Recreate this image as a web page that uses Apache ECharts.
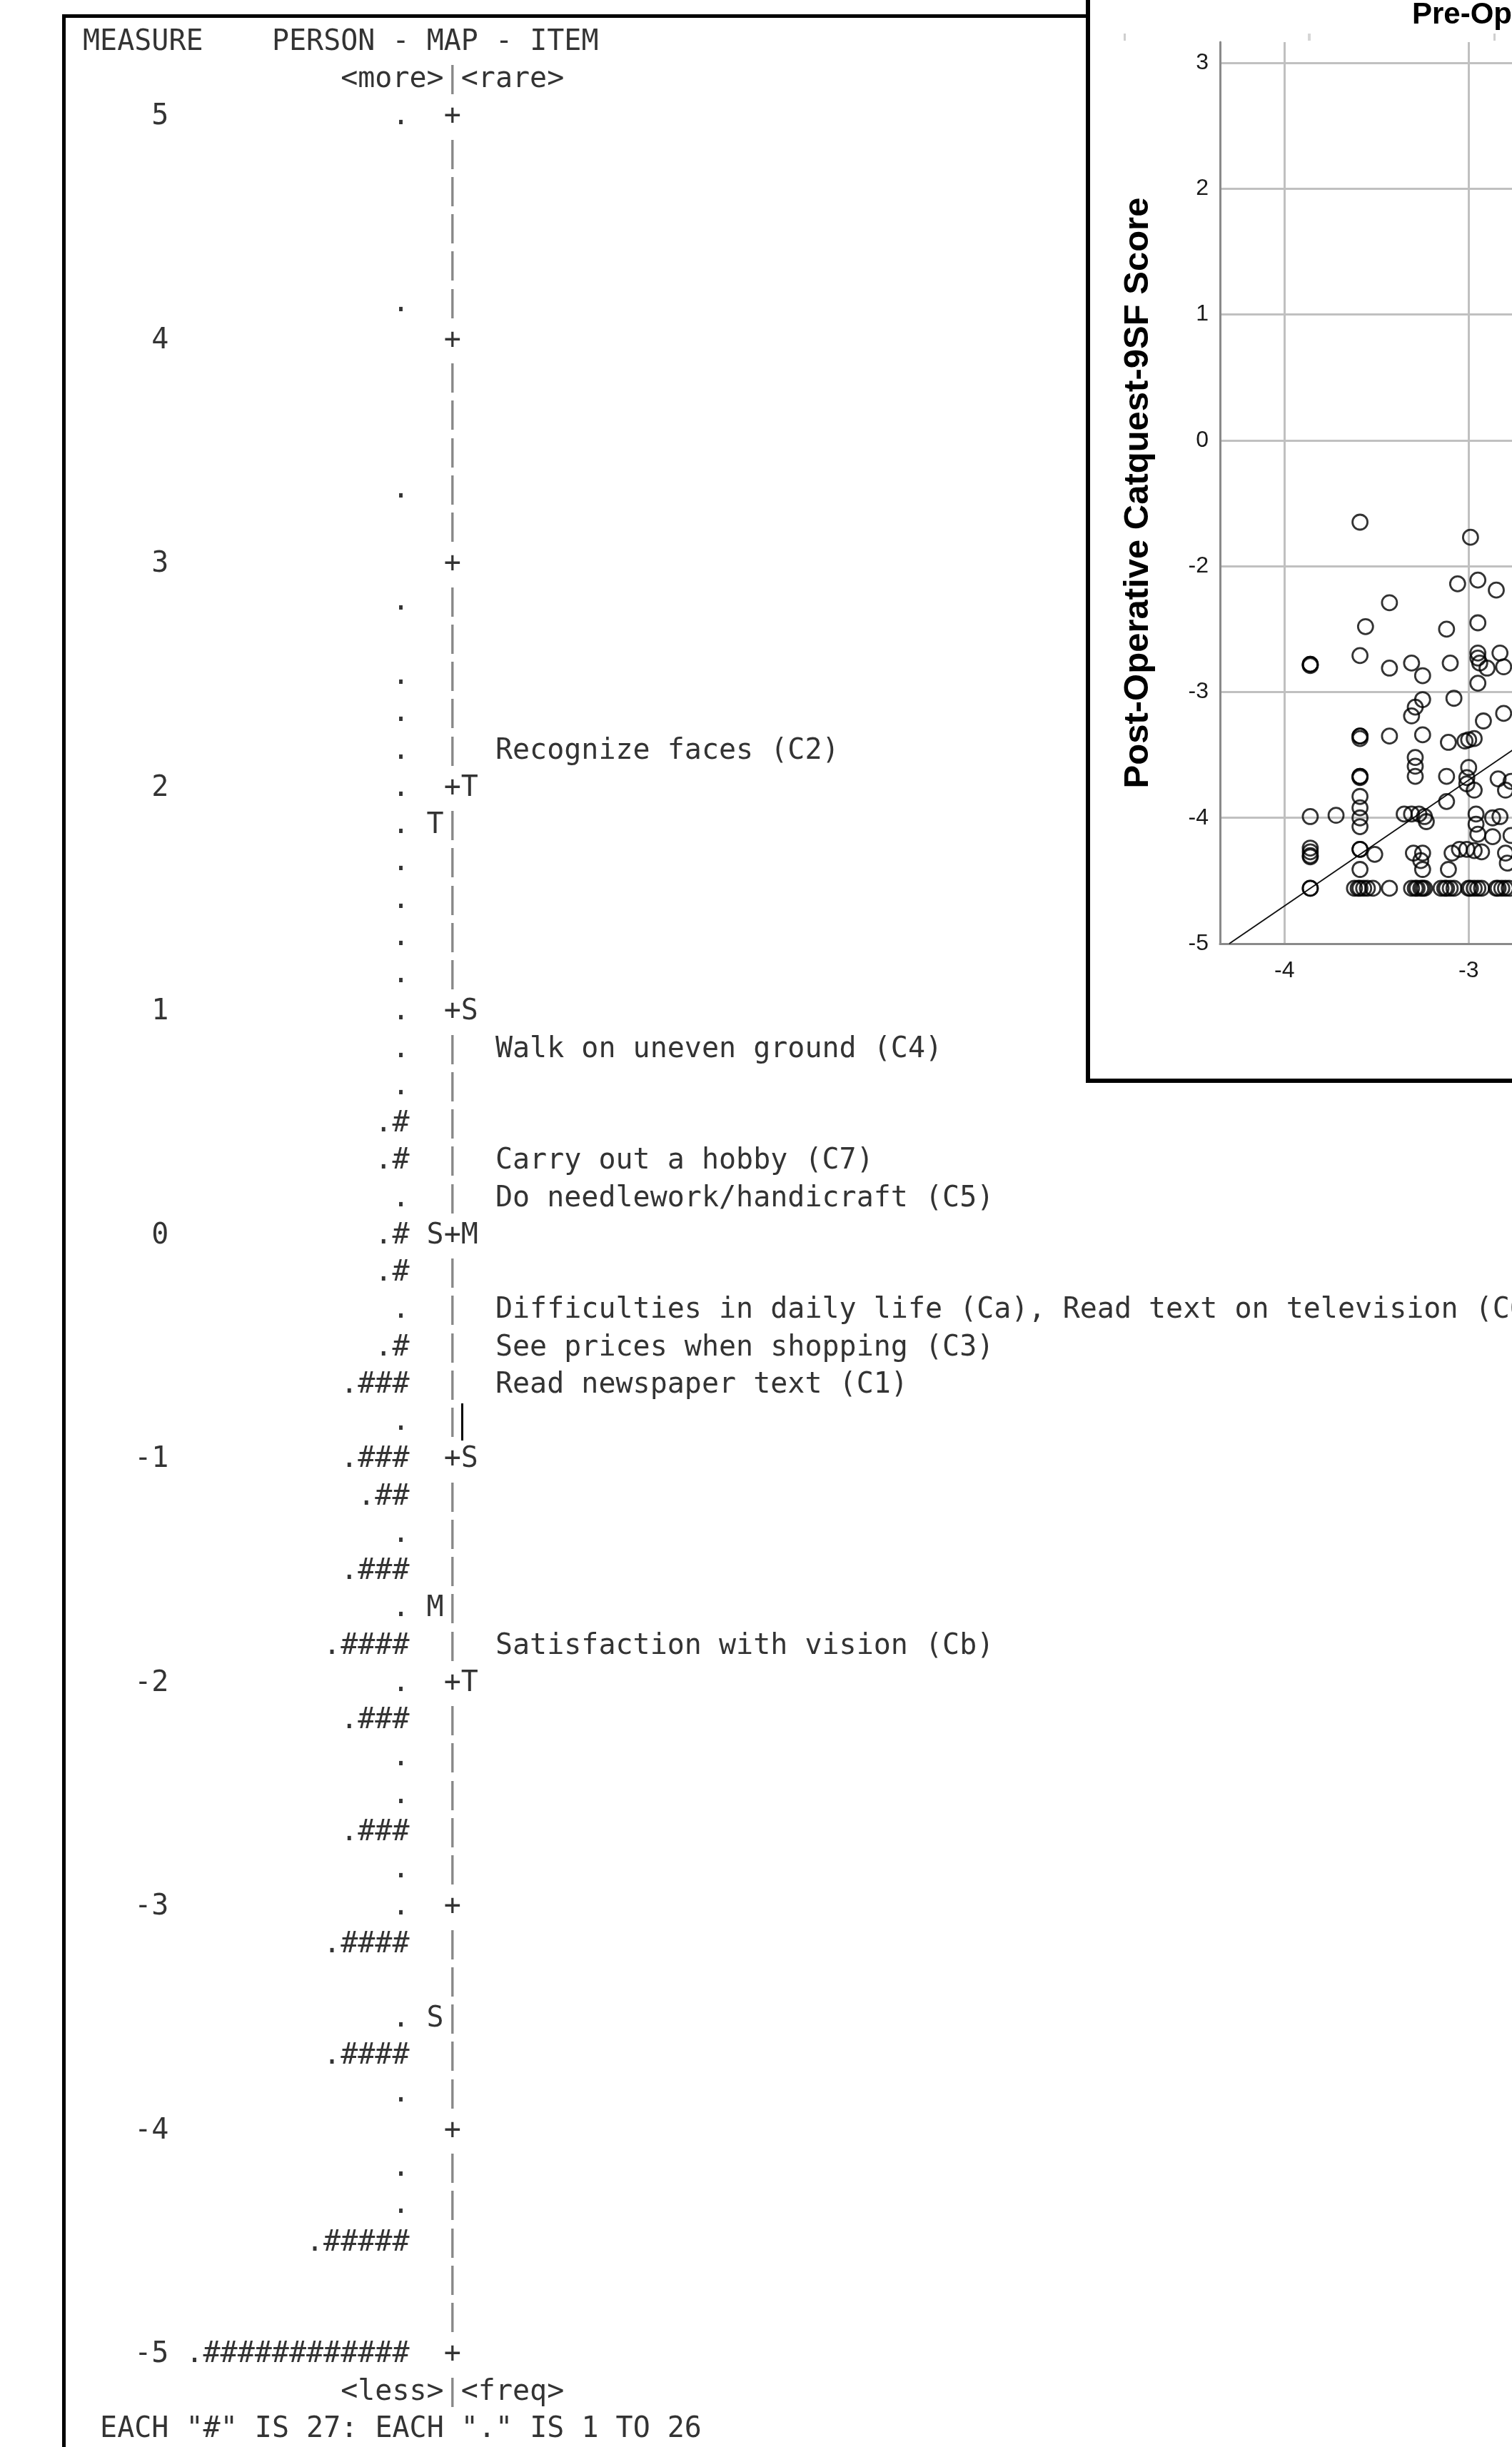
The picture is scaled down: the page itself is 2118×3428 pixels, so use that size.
<!DOCTYPE html>
<html>
<head>
<meta charset="utf-8">
<script src="https://cdn.jsdelivr.net/npm/echarts@6/dist/echarts.min.js"></script>
<style>
html,body{margin:0;padding:0;background:#fff;}
#chart{width:2118px;height:3428px;}
</style>
</head>
<body>
<div id="chart"></div>
<script>
// ---------------- DATA ----------------
// Person-item map (measure in logits)
const measureTicks = [5, 4, 3, 2, 1, 0, -1, -2, -3, -4, -5];
// [measure, number of "#"] ; every listed row also carries one "."
const personRows = [
  [5.000, 0], [4.167, 0], [3.333, 0], [2.833, 0], [2.500, 0], [2.333, 0], [2.167, 0],
  [2.000, 0], [1.833, 0], [1.667, 0], [1.500, 0], [1.333, 0], [1.167, 0], [1.000, 0],
  [0.833, 0], [0.667, 0], [0.500, 1], [0.333, 1], [0.167, 0], [0.000, 1], [-0.167, 1],
  [-0.333, 0], [-0.500, 1], [-0.667, 3], [-0.833, 0], [-1.000, 3], [-1.167, 2],
  [-1.333, 0], [-1.500, 3], [-1.667, 0], [-1.833, 4], [-2.000, 0], [-2.167, 3],
  [-2.333, 0], [-2.500, 0], [-2.667, 3], [-2.833, 0], [-3.000, 0], [-3.167, 4],
  [-3.500, 0], [-3.667, 4], [-3.833, 0], [-4.167, 0], [-4.333, 0], [-4.500, 5],
  [-5.000, 12]
];
const personMarkers = [['T', 1.833], ['S', 0], ['M', -1.667], ['S', -3.5]];
const itemMarkers = [['T', 2], ['S', 1], ['M', 0], ['S', -1], ['T', -2]];
const itemNames = [
  'Recognize faces (C2)',
  'Walk on uneven ground (C4)',
  'Carry out a hobby (C7)',
  'Do needlework/handicraft (C5)',
  'Difficulties in daily life (Ca), Read text on television (C6)',
  'See prices when shopping (C3)',
  'Read newspaper text (C1)',
  'Satisfaction with vision (Cb)'
];
const itemMeasures = [2.167, 0.833, 0.333, 0.167, -0.333, -0.5, -0.667, -1.833];
const headerText = 'MEASURE    PERSON - MAP - ITEM';
const topPoleText = '<more>|<rare>';
const bottomPoleText = '<less>|<freq>';
const footnoteText = 'EACH "#" IS 27: EACH "." IS 1 TO 26';

// Inset scatter: [pre-operative, post-operative]
const prePostScores = [
  [-3.59,-1.65],[-2.99,-1.77],[-3.06,-2.14],[-2.95,-2.11],[-2.85,-2.19],[-3.43,-2.29],
  [-3.56,-2.48],[-3.12,-2.50],[-2.95,-2.45],[-3.59,-2.71],[-3.86,-2.78],[-3.86,-2.78],
  [-3.86,-2.79],[-3.43,-2.81],[-3.31,-2.77],[-3.25,-2.87],[-3.10,-2.77],[-2.95,-2.69],
  [-2.95,-2.73],[-2.94,-2.77],[-2.83,-2.69],[-2.90,-2.81],[-2.81,-2.80],[-2.95,-2.93],
  [-3.25,-3.06],[-3.29,-3.12],[-3.31,-3.19],[-3.08,-3.05],[-2.92,-3.23],[-2.81,-3.17],
  [-3.25,-3.34],[-3.11,-3.40],[-3.02,-3.39],[-3.00,-3.38],[-2.97,-3.37],[-3.59,-3.35],
  [-3.59,-3.35],[-3.59,-3.37],[-3.43,-3.35],[-3.29,-3.52],[-3.29,-3.59],[-3.29,-3.67],
  [-3.12,-3.67],[-3.00,-3.60],[-3.01,-3.68],[-3.01,-3.73],[-2.97,-3.78],[-2.84,-3.69],
  [-2.80,-3.78],[-2.77,-3.71],[-3.59,-3.67],[-3.59,-3.67],[-3.59,-3.68],[-3.59,-3.83],
  [-3.59,-3.92],[-3.59,-4.00],[-3.59,-4.07],[-3.86,-3.99],[-3.72,-3.98],[-3.12,-3.87],
  [-3.35,-3.97],[-3.31,-3.97],[-3.27,-3.97],[-3.24,-3.99],[-3.23,-4.03],[-2.96,-3.97],
  [-2.96,-4.05],[-2.95,-4.13],[-2.87,-4.00],[-2.83,-3.99],[-2.87,-4.15],[-2.77,-4.14],
  [-3.86,-4.24],[-3.86,-4.27],[-3.86,-4.30],[-3.86,-4.31],[-3.59,-4.25],[-3.59,-4.25],
  [-3.51,-4.29],[-3.59,-4.41],[-3.30,-4.28],[-3.25,-4.28],[-3.26,-4.34],[-3.25,-4.41],
  [-3.09,-4.28],[-3.05,-4.25],[-3.01,-4.25],[-2.97,-4.26],[-2.93,-4.27],[-3.11,-4.41],
  [-2.80,-4.28],[-2.79,-4.36],
  [-3.86,-4.56],[-3.86,-4.56],[-3.62,-4.56],[-3.60,-4.56],[-3.59,-4.56],[-3.57,-4.56],
  [-3.55,-4.56],[-3.52,-4.56],[-3.43,-4.56],[-3.31,-4.56],[-3.29,-4.56],[-3.28,-4.56],
  [-3.26,-4.56],[-3.25,-4.56],[-3.24,-4.56],[-3.15,-4.56],[-3.13,-4.56],[-3.12,-4.56],
  [-3.10,-4.56],[-3.08,-4.56],[-3.00,-4.56],[-2.99,-4.56],[-2.97,-4.56],[-2.95,-4.56],
  [-2.93,-4.56],[-2.85,-4.56],[-2.84,-4.56],[-2.82,-4.56],[-2.80,-4.56],[-2.78,-4.56],
  [-2.76,-4.56]
];
const referenceLine = [[-4.30, -5.00], [-2.00, -2.70]];
const scatterXTicks = [-4, -3];
const scatterYTicks = [-5, -4, -3, -2, -1, 0, 1, 2];
const scatterYTickLabels = ['-5', '-4', '-3', '-2', '0', '1', '2', '3'];
const scatterTitle = 'Pre-Operative Catquest-9SF Score';
const scatterYName = 'Post-Operative Catquest-9SF Score';

// ---------------- LAYOUT ----------------
const MONO = 'DejaVu Sans Mono';
const SANS = 'Liberation Sans, Arial, sans-serif';
const CW = 24.08;      // character cell width
const X0 = 116;        // left edge of column 0
const ROWH = 52.25;    // row pitch (1/6 logit)
const TOP = 164;       // y of measure 5
const COLS = 83;
const rowMeasure = r => 5 - r / 6;   // layout rows outside the ruler
const SC_LEFT = 1709, SC_W = 409, SC_XMIN = -4.35, SC_XMAX = -4.35 + 409 / 258;

function textSeries(data, side, color) {
  return {
    type: 'scatter', xAxisIndex: 0, yAxisIndex: 0, clip: false, silent: true,
    symbolSize: 0.01, itemStyle: { color: 'rgba(0,0,0,0)' },
    data: data, z: 5, animation: false,
    label: {
      show: true, position: side === 'right' ? 'left' : 'right', distance: 0,
      formatter: '{b}', fontFamily: MONO, fontSize: 40, color: color || '#000'
    }
  };
}

// ruler rows ("|" between measures, "+" at whole logits)
const rulerData = [];
for (let i = 0; i <= 60; i++) {
  const plus = i % 6 === 0;
  rulerData.push({ name: plus ? '+' : '|', value: [21, 5 - i / 6],
    label: { color: plus ? '#000' : '#6a6a6a' } });
}

const series = [
  textSeries([
    { name: headerText, value: [0, rowMeasure(-2)] },
    { name: footnoteText, value: [1, rowMeasure(62)] }
  ], 'left'),
  textSeries([
    { name: topPoleText.slice(0, 6), value: [21, rowMeasure(-1)] },
    { name: bottomPoleText.slice(0, 6), value: [21, rowMeasure(61)] }
  ], 'right'),
  textSeries([
    { name: '|', value: [21, rowMeasure(-1)] },
    { name: '|', value: [21, rowMeasure(61)] }
  ], 'left', '#6a6a6a'),
  textSeries([
    { name: topPoleText.slice(7), value: [22, rowMeasure(-1)] },
    { name: bottomPoleText.slice(7), value: [22, rowMeasure(61)] }
  ], 'left'),
  textSeries(measureTicks.map(v => ({ name: String(v), value: [5, v] })), 'right'),
  textSeries(personRows.map(p => ({ name: '.' + '#'.repeat(p[1]), value: [19, p[0]] })), 'right'),
  textSeries(personMarkers.map(p => ({ name: p[0], value: [20, p[1]] })), 'left'),
  textSeries(rulerData, 'left'),
  textSeries(itemMarkers.map(p => ({ name: p[0], value: [22, p[1]] })), 'left'),
  textSeries(itemNames.map((n, i) => ({ name: n, value: [24, itemMeasures[i]] })), 'left'),
  {
    type: 'line', xAxisIndex: 1, yAxisIndex: 1, data: referenceLine, symbol: 'none',
    lineStyle: { color: '#111', width: 2 }, z: 12, silent: true, animation: false,
    markLine: {
      silent: true, symbol: ['none', 'none'], label: { show: false }, animation: false,
      lineStyle: { color: '#c0c0c0', width: 3, type: 'solid' },
      emphasis: { disabled: true },
      data: scatterXTicks.map(v => ({ xAxis: v }))
        .concat(scatterYTicks.filter(v => v > -5).map(v => ({ yAxis: v })))
    }
  },
  {
    type: 'scatter', xAxisIndex: 1, yAxisIndex: 1, data: prePostScores,
    symbol: 'circle', symbolSize: 21, z: 13, silent: true, animation: false,
    itemStyle: { color: 'rgba(0,0,0,0)', borderColor: '#000', borderWidth: 2.8 }
  }
];

const option = {
  backgroundColor: '#fff',
  animation: false,
  title: {
    text: scatterTitle, left: 1973, top: -5,
    textStyle: { fontFamily: SANS, fontSize: 42, fontWeight: 'bold', color: '#000' }
  },
  grid: [
    { left: X0, top: TOP, width: COLS * CW, height: 60 * ROWH, containLabel: false },
    { left: SC_LEFT, top: 59, width: SC_W, height: 1263, containLabel: false }
  ],
  xAxis: [
    { gridIndex: 0, type: 'value', min: 0, max: COLS, show: false },
    {
      gridIndex: 1, type: 'value', min: SC_XMIN, max: SC_XMAX, z: 11,
      axisLine: { show: true, onZero: false, lineStyle: { color: '#8a8a8a', width: 3 } },
      axisTick: { show: false },
      splitLine: { show: false },
      axisLabel: { customValues: scatterXTicks, fontFamily: SANS, fontSize: 32, color: '#1a1a1a', margin: 22,
        formatter: v => (Number.isInteger(v) ? String(v) : '') }
    }
  ],
  yAxis: [
    { gridIndex: 0, type: 'value', min: -5, max: 5, show: false },
    {
      gridIndex: 1, type: 'value', min: -5, max: 2.165, z: 11,
      axisLine: { show: true, onZero: false, lineStyle: { color: '#8a8a8a', width: 3 } },
      axisTick: { show: false },
      splitLine: { show: false },
      axisLabel: {
        customValues: scatterYTicks, fontFamily: SANS, fontSize: 32, color: '#1a1a1a', margin: 16,
        formatter: v => {
          const i = scatterYTicks.indexOf(Math.round(v));
          return (Math.abs(v - Math.round(v)) < 1e-6 && i >= 0) ? scatterYTickLabels[i] : '';
        }
      },
      name: scatterYName, nameLocation: 'middle', nameGap: 90,
      nameTextStyle: { fontFamily: SANS, fontSize: 49, fontWeight: 'bold', color: '#000' }
    }
  ],
  graphic: [
    { type: 'rect', shape: { x: 87, y: 20, width: 5, height: 3420 }, style: { fill: '#000' }, z: 20, silent: true },
    { type: 'rect', shape: { x: 87, y: 20, width: 1437, height: 5 }, style: { fill: '#000' }, z: 20, silent: true },
    { type: 'rect', shape: { x: 1521, y: 0, width: 6, height: 1517 }, style: { fill: '#000' }, z: 20, silent: true },
    { type: 'rect', shape: { x: 1521, y: 1511, width: 620, height: 6 }, style: { fill: '#000' }, z: 20, silent: true },
    { type: 'rect', shape: { x: 1574, y: 47, width: 3, height: 10 }, style: { fill: '#cfcfcf' }, z: 20, silent: true },
    { type: 'rect', shape: { x: 1832, y: 47, width: 4, height: 10 }, style: { fill: '#d6d6d6' }, z: 20, silent: true },
    { type: 'rect', shape: { x: 2092, y: 47, width: 3, height: 10 }, style: { fill: '#cfcfcf' }, z: 20, silent: true },
    { type: 'rect', shape: { x: 646, y: 1966, width: 3, height: 52 }, style: { fill: '#000' }, z: 20, silent: true }
  ],
  series: series
};

const chart = echarts.init(document.getElementById('chart'), null, { renderer: 'canvas', width: 2118, height: 3428 });
chart.setOption(option);
</script>
</body>
</html>
